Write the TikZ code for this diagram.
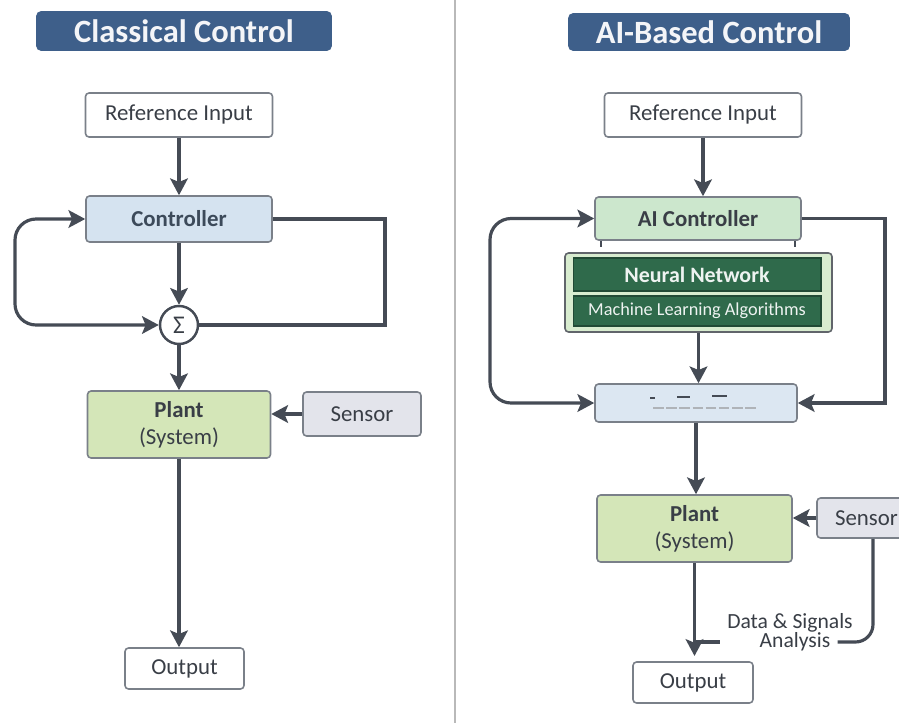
\documentclass[tikz,border=0pt]{standalone}
\usepackage{fontspec}
\setmainfont{Carlito}
\usetikzlibrary{arrows.meta,calc,positioning}
\definecolor{ink}{HTML}{393E46}
\definecolor{slate}{HTML}{3C4A5A}
\definecolor{wire}{HTML}{454B55}
\definecolor{navy}{HTML}{3E5F8A}
\definecolor{skyfill}{HTML}{D5E3F0}
\definecolor{leaf}{HTML}{D4E6B8}
\definecolor{mint}{HTML}{CCE7CD}
\definecolor{sage}{HTML}{D8ECCF}
\definecolor{pine}{HTML}{2F6A4B}
\definecolor{mist}{HTML}{E3E4EB}
\definecolor{frame}{HTML}{7A8089}
\definecolor{paleblue}{HTML}{DCE7F2}

\tikzset{
  box/.style={draw=frame, line width=0.9pt, rounded corners=2pt, align=center,
    text=ink, font=\fontsize{13}{15.5}\selectfont},
  titlebox/.style={fill=navy, rounded corners=3pt, text=white!94!navy,
    font=\bfseries\fontsize{18.5}{20}\selectfont},
  darkbox/.style={fill=pine, draw=pine!70!black, line width=0.6pt, text=white!92!pine},
  tip/.style={-{Stealth[length=9.5pt,width=10pt,inset=2pt]}},
  twotip/.style={{Stealth[length=9.5pt,width=10pt,inset=2pt]}-{Stealth[length=9.5pt,width=10pt,inset=2pt]}},
  flow/.style={draw=wire, line width=2pt, tip},
  wire2/.style={draw=wire, line width=1.8pt},
}

\begin{document}
\begin{tikzpicture}[x=0.02cm, y=-0.02cm]
  \useasboundingbox (0,0) rectangle (899,723);
  \fill[white] (0,0) rectangle (899,723);
  \begin{scope}
  \clip (0,0) rectangle (899,723);
  % panel divider
  \draw[gray!55, line width=1.5pt] (455,0) -- (455,723);

  % ---- classical loop ----
  \node[titlebox, minimum width=5.92cm, minimum height=0.8cm] (titleL) at (184,31) {Classical Control};
  \node[box, fill=white, minimum width=3.74cm, minimum height=0.88cm] (refL) at (179,115) {Reference Input};
  \node[box, fill=skyfill, minimum width=3.72cm, minimum height=0.92cm,
        text=slate, font=\bfseries\fontsize{13}{15.5}\selectfont] (ctrlL) at (179,219) {Controller};
  \node[circle, draw=wire, fill=white, line width=1.4pt, minimum size=0.76cm, inner sep=0pt,
        text=ink, font=\fontsize{14.5}{15}\selectfont] (sumL) at (179,325) {Σ};
  \node[box, fill=leaf, minimum width=3.66cm, minimum height=1.34cm] (plantL) at (179,424.5) {\textbf{Plant}\\(System)};
  \node[box, fill=mist, minimum width=2.36cm, minimum height=0.88cm] (sensL) at (362,414) {Sensor};
  \node[box, fill=white, minimum width=2.38cm, minimum height=0.82cm] (outL) at (184.5,668.5) {Output};

  \coordinate (railL) at (15,0);
  \coordinate (railR) at (385,0);

  \draw[flow] (refL) -- (ctrlL);
  \draw[flow] (ctrlL) -- (sumL);
  \draw[flow] (sumL) -- (plantL);
  \draw[wire2, twotip, rounded corners=12pt]
    (sumL.west) -- (sumL.west -| railL) |- (ctrlL.west);
  \draw[wire2] (ctrlL.east) -| (railR |- sumL.east) -- (sumL.east);
  \draw[flow] (sensL.west) -- (sensL.west -| plantL.east);
  \draw[flow] (plantL.south) -- (plantL.south |- outL.north);

  % ---- AI loop ----
  \node[titlebox, minimum width=5.64cm, minimum height=0.76cm] (titleR) at (709,32) {AI-Based Control};
  \node[box, fill=white, minimum width=3.94cm, minimum height=0.88cm] (refR) at (703,115) {Reference Input};
  \node[box, fill=mint, minimum width=4.12cm, minimum height=0.86cm,
        font=\bfseries\fontsize{13}{15.5}\selectfont] (aiR) at (698,218.5) {AI Controller};
  \node[draw=ink!80, fill=sage, line width=0.9pt, rounded corners=2pt,
        minimum width=5.34cm, minimum height=1.58cm] (nnR) at (698.5,292.5) {};
  \node[darkbox, minimum width=4.96cm, minimum height=0.66cm,
        font=\bfseries\fontsize{12.5}{14}\selectfont] (nnA) at (697,274.5) {Neural Network};
  \node[darkbox, minimum width=4.96cm, minimum height=0.6cm,
        font=\fontsize{10.4}{12}\selectfont] (nnB) at (697,311) {Machine Learning Algorithms};
  \node[box, fill=paleblue, minimum width=4.04cm, minimum height=0.76cm] (midR) at (696,403) {};
  \node[box, fill=leaf, minimum width=3.9cm, minimum height=1.34cm] (plantR) at (694.5,528.5) {\textbf{Plant}\\(System)};
  \node[box, fill=mist, minimum width=2.24cm, minimum height=0.8cm,
        text width=1.52cm, inner xsep=0.36cm, align=left] (sensR) at (873,518) {Sensor};
  \node[box, fill=white, minimum width=2.4cm, minimum height=0.82cm] (outR) at (693,682.5) {Output};
  \node[text=ink, inner sep=4pt, font=\fontsize{12.3}{14}\selectfont] (dsaA) at (790,623) {Data \& Signals};
  \node[text=ink, inner sep=4pt, font=\fontsize{12.3}{14}\selectfont] (dsaB) at (795,642) {Analysis};

  % little feet under the controller
  \draw[wire, line width=1.4pt] ([xshift=0.14cm]aiR.south west) -- ++(0,6);
  \draw[wire, line width=1.4pt] ([xshift=-0.14cm]aiR.south east) -- ++(0,6);

  % marks inside the blank block
  \draw[wire, line width=1.3pt] ([shift={(-46,-5)}]midR.center) -- ++(5,0);
  \draw[wire, line width=1.3pt] ([shift={(-19,-6)}]midR.center) -- ++(13,0);
  \draw[wire, line width=1.3pt] ([shift={(16,-7)}]midR.center) -- ++(15,0);
  \draw[frame!60, line width=0.8pt, dash pattern=on 6pt off 1.5pt] ([shift={(-43,5)}]midR.center) -- ++(104,0);

  \coordinate (railAL) at (490,0);
  \coordinate (railAR) at (885,0);

  \draw[flow] (refR.south) -- (refR.south |- aiR.north);
  \draw[flow] (nnR.south) -- (nnR.south |- midR.north);
  \draw[flow] (midR.south) -- (midR.south |- plantR.north);
  \draw[wire2, twotip, rounded corners=12pt]
    (midR.west) -- (midR.west -| railAL) |- (aiR.west);
  \draw[wire2, tip] (aiR.east) -| (railAR |- midR.east) -- (midR.east);
  \draw[flow] (sensR.west) -- (sensR.west -| plantR.east);
  \draw[flow, shorten >=3pt] (plantR.south) -- (plantR.south |- outR.north);
  \draw[wire2, rounded corners=10pt] (sensR.south) |- (dsaB.east);
  \draw[wire2] (dsaB.west -| dsaA.west) -- (dsaB.west -| plantR.south);
  \end{scope}
\end{tikzpicture}
\end{document}
